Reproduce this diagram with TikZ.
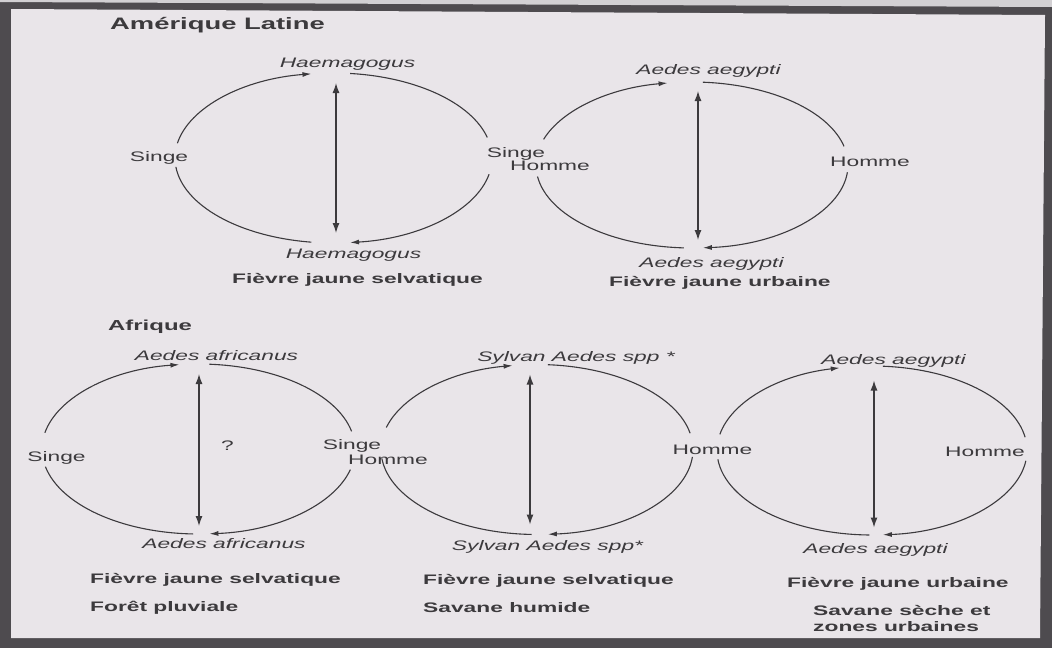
\documentclass[tikz,border=0pt]{standalone}
\usepackage{fontspec}
\setmainfont{Liberation Sans}[FakeStretch=1.65]
\usetikzlibrary{arrows.meta}
\definecolor{page}{HTML}{E9E5E9}
\definecolor{frame}{HTML}{4E4B4F}
\definecolor{strip}{HTML}{D2D0D3}
\definecolor{ink}{HTML}{3C3A3D}

\tikzset{
  host/.style={inner sep=0pt, anchor=base, text=ink, font=\fontsize{13.8}{16}\selectfont},
  mosq/.style={host, font=\fontsize{13.8}{16}\selectfont\itshape},
  cycname/.style={host, anchor=base west, font=\fontsize{13.8}{16}\selectfont\bfseries},
  region/.style={host, anchor=base west, font=\fontsize{16.6}{19}\selectfont\bfseries},
  cyc/.style={draw=ink, line width=1.1pt},
  twoway/.style={draw=ink, line width=1.3pt, {Latex[length=10pt,width=7pt]}-{Latex[length=10pt,width=7pt]}}
}

\begin{document}
\begin{tikzpicture}[x=1pt, y=-1pt, >={Latex[length=9pt,width=5pt]}]
  \useasboundingbox (0,0) rectangle (1052,648);
  % page and frame
  \fill[frame] (0,0) rectangle (1052,648);
  \fill[strip] (0,0) -- (1052,0) -- (1052,7) -- (0,2) -- cycle;
  \fill[page] (11,9) -- (1045,15) -- (1040,638) -- (11,638) -- cycle;

  % Amerique Latine
  \node[region] (latam) at (110,29) {Amérique Latine};

  % cycle 1 : selvatique
  \coordinate (c1) at (333.5,158);
  \foreach \s/\e/\tip in {190/262/->, 276/346/-, 11/84/->, 98/174/-}
    \draw[cyc,\tip] (c1) ++(\s:158.5 and 85) arc[start angle=\s, end angle=\e, x radius=158.5, y radius=85];
  \node[mosq] (v1t) at (347.5,67) {Haemagogus};
  \node[mosq] (v1b) at (353.5,258) {Haemagogus};
  \node[host] (h1l) at (159,161) {Singe};
  \node[cycname] (n1) at (232,283) {Fièvre jaune selvatique};
  \draw[twoway] ([shift={(2.5,-75)}]c1) -- ([shift={(2.5,75)}]c1);

  % cycle 2 : urbaine
  \coordinate (c2) at (692,165);
  \foreach \s/\e/\tip in {198/261/->, 274/347/-, 5/86/->, 93/172/-}
    \draw[cyc,\tip] (c2) ++(\s:156 and 83) arc[start angle=\s, end angle=\e, x radius=156, y radius=83];
  \node[host] (h12s) at (516,157) {Singe};
  \node[host] (h12h) at (550,170) {Homme};
  \node[mosq] (v2t) at (708.5,74) {Aedes aegypti};
  \node[mosq] (v2b) at (711.5,267) {Aedes aegypti};
  \node[host] (h2r) at (870,166) {Homme};
  \node[cycname] (n2) at (609,286) {Fièvre jaune urbaine};
  \draw[twoway] ([shift={(6,-74)}]c2) -- ([shift={(6,75)}]c2);

  % Afrique
  \node[region, font=\fontsize{14.5}{17}\selectfont\bfseries] (afr) at (108,330) {Afrique};

  % cycle 3 : foret pluviale
  \coordinate (c3) at (198.5,449);
  \foreach \s/\e/\tip in {191/263/->, 274/348/-, 14/86/->, 92/168/-}
    \draw[cyc,\tip] (c3) ++(\s:156.5 and 85) arc[start angle=\s, end angle=\e, x radius=156.5, y radius=85];
  \node[mosq] (v3t) at (216.5,360) {Aedes africanus};
  \node[mosq] (v3b) at (224,548) {Aedes africanus};
  \node[host] (q3) at (227.5,450) {?};
  \node[host] (h3l) at (56.5,461) {Singe};
  \node[cycname] (n3) at (90,583) {Fièvre jaune selvatique};
  \node[cycname] (b3) at (90,611) {Forêt pluviale};
  \draw[twoway] ([shift={(0.5,-75)}]c3) -- ([shift={(0.5,77)}]c3);

  % cycle 4 : savane humide
  \coordinate (c4) at (537,449.5);
  \foreach \s/\e/\tip in {195/261/->, 274/349/-, 5/86/->, 92/174/-}
    \draw[cyc,\tip] (c4) ++(\s:156 and 85) arc[start angle=\s, end angle=\e, x radius=156, y radius=85];
  \node[host] (h34s) at (352,449) {Singe};
  \node[host] (h34h) at (388,464) {Homme};
  \node[mosq] (v4t) at (576,361) {Sylvan Aedes spp *};
  \node[mosq] (v4b) at (547.5,550) {Sylvan Aedes spp*};
  \node[cycname] (n4) at (423,584) {Fièvre jaune selvatique};
  \node[cycname] (b4) at (423,612) {Savane humide};
  \draw[twoway] ([shift={(-7,-75)}]c4) -- ([shift={(-7,75)}]c4);

  % cycle 5 : savane seche
  \coordinate (c5) at (872,450.5);
  \foreach \s/\e/\tip in {191/258/->, 274/351/-, 7/86/->, 91/174/-}
    \draw[cyc,\tip] (c5) ++(\s:155 and 84.5) arc[start angle=\s, end angle=\e, x radius=155, y radius=84.5];
  \node[host] (h45) at (712.5,454) {Homme};
  \node[mosq] (v5t) at (893.5,364) {Aedes aegypti};
  \node[mosq] (v5b) at (875.5,553) {Aedes aegypti};
  \node[host] (h5r) at (985,456) {Homme};
  \node[cycname] (n5) at (787,587) {Fièvre jaune urbaine};
  \node[cycname, align=left] (b5) at (813,631) {Savane sèche et\\zones urbaines};
  \draw[twoway] ([shift={(2,-70)}]c5) -- ([shift={(2,77)}]c5);
\end{tikzpicture}
\end{document}
